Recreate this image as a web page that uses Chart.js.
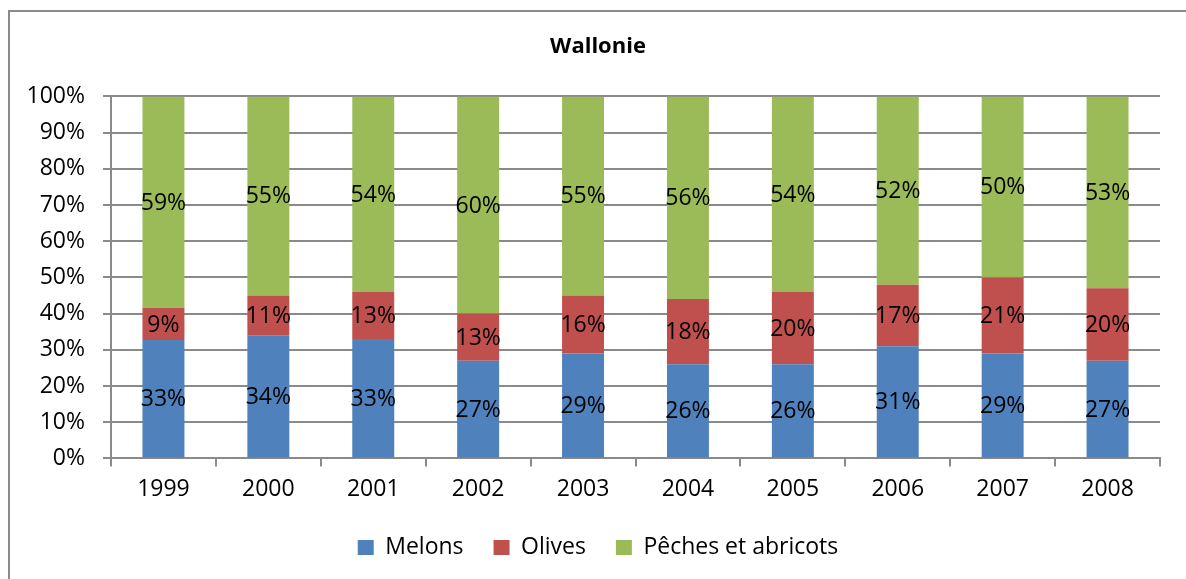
<!DOCTYPE html>
<html>
<head>
<meta charset="utf-8">
<script src="https://cdn.jsdelivr.net/npm/chart.js@4"></script>
<style>
  html, body { margin: 0; padding: 0; background: #fff; overflow: hidden; }
  #wrap { width: 1186px; height: 579px; position: relative; }
</style>
</head>
<body>
<div id="wrap"><canvas id="chart" width="1186" height="579"></canvas></div>
<script>
// data (percent shares, as labelled)
const years = ['1999', '2000', '2001', '2002', '2003', '2004', '2005', '2006', '2007', '2008'];
const melons = [33, 34, 33, 27, 29, 26, 26, 31, 29, 27];
const olives = [9, 11, 13, 13, 16, 18, 20, 17, 21, 20];
const peches = [59, 55, 54, 60, 55, 56, 54, 52, 50, 53];
const yTicks = ['0%', '10%', '20%', '30%', '40%', '50%', '60%', '70%', '80%', '90%', '100%'];

const FONT = '"Open Sans", "Liberation Sans", sans-serif';
Chart.defaults.font.family = FONT;
Chart.defaults.color = '#000';

// 100% stacked: each year is scaled to its own total
const totals = years.map((y, i) => melons[i] + olives[i] + peches[i]);
const share = arr => arr.map((v, i) => v / totals[i] * 100);

// border round the chart (Excel chart frame)
const framePlugin = {
    id: 'frame',
    beforeDraw(chart) {
        const ctx = chart.ctx;
        ctx.save();
        ctx.strokeStyle = '#8a8a8a';
        ctx.lineWidth = 2;
        ctx.strokeRect(9, 11, 1400, 800);
        ctx.restore();
    }
};

// value labels in the middle of each segment
const labelPlugin = {
    id: 'segLabels',
    afterDatasetsDraw(chart) {
        const ctx = chart.ctx;
        ctx.save();
        ctx.font = '23px ' + FONT;
        ctx.fillStyle = '#000';
        ctx.textAlign = 'center';
        ctx.textBaseline = 'middle';
        chart.data.datasets.forEach((ds, di) => {
            chart.getDatasetMeta(di).data.forEach((bar, i) => {
                const p = bar.getCenterPoint();
                ctx.fillText(ds.raw[i] + '%', p.x, p.y + 1);
            });
        });
        ctx.restore();
    }
};

new Chart(document.getElementById('chart'), {
    type: 'bar',
    data: {
        labels: years,
        datasets: [
            { label: 'Melons', data: share(melons), raw: melons, backgroundColor: '#4F81BD' },
            { label: 'Olives', data: share(olives), raw: olives, backgroundColor: '#C0504D' },
            { label: 'Pêches et abricots', data: share(peches), raw: peches, backgroundColor: '#9BBB59' }
        ]
    },
    options: {
        responsive: false,
        animation: false,
        barPercentage: 0.4,
        categoryPercentage: 1,
        layout: { padding: { top: 20, left: 10, right: 0, bottom: 10 } },
        scales: {
            x: {
                stacked: true,
                afterFit(scale) { scale.height -= 6; },
                grid: { display: true, drawOnChartArea: false, offset: true, tickLength: 8, color: '#8a8a8a', lineWidth: 2 },
                border: { color: '#8a8a8a', width: 2 },
                ticks: { font: { size: 23 }, padding: 9 }
            },
            y: {
                stacked: true,
                min: 0,
                max: 100,
                afterFit(scale) { scale.width = 101; },
                grid: { color: '#8a8a8a', lineWidth: 2, tickLength: 8 },
                border: { color: '#8a8a8a', width: 2 },
                ticks: {
                    stepSize: 10,
                    padding: 18,
                    font: { size: 23 },
                    callback: (v, i) => yTicks[i]
                }
            },
            // empty right-hand margin so the title and legend sit centred like the original
            yRight: {
                position: 'right',
                display: true,
                afterFit(scale) { scale.width = 26; },
                grid: { display: false },
                border: { display: false },
                ticks: { display: false }
            }
        },
        plugins: {
            title: {
                display: true,
                text: 'Wallonie',
                font: { size: 22, weight: 'bold' },
                padding: { top: 14, bottom: 36 }
            },
            legend: {
                position: 'bottom',
                labels: {
                    boxWidth: 16,
                    boxHeight: 15,
                    padding: 30,
                    font: { size: 23 }
                }
            },
            tooltip: { enabled: false }
        }
    },
    plugins: [framePlugin, labelPlugin]
});
</script>
</body>
</html>
